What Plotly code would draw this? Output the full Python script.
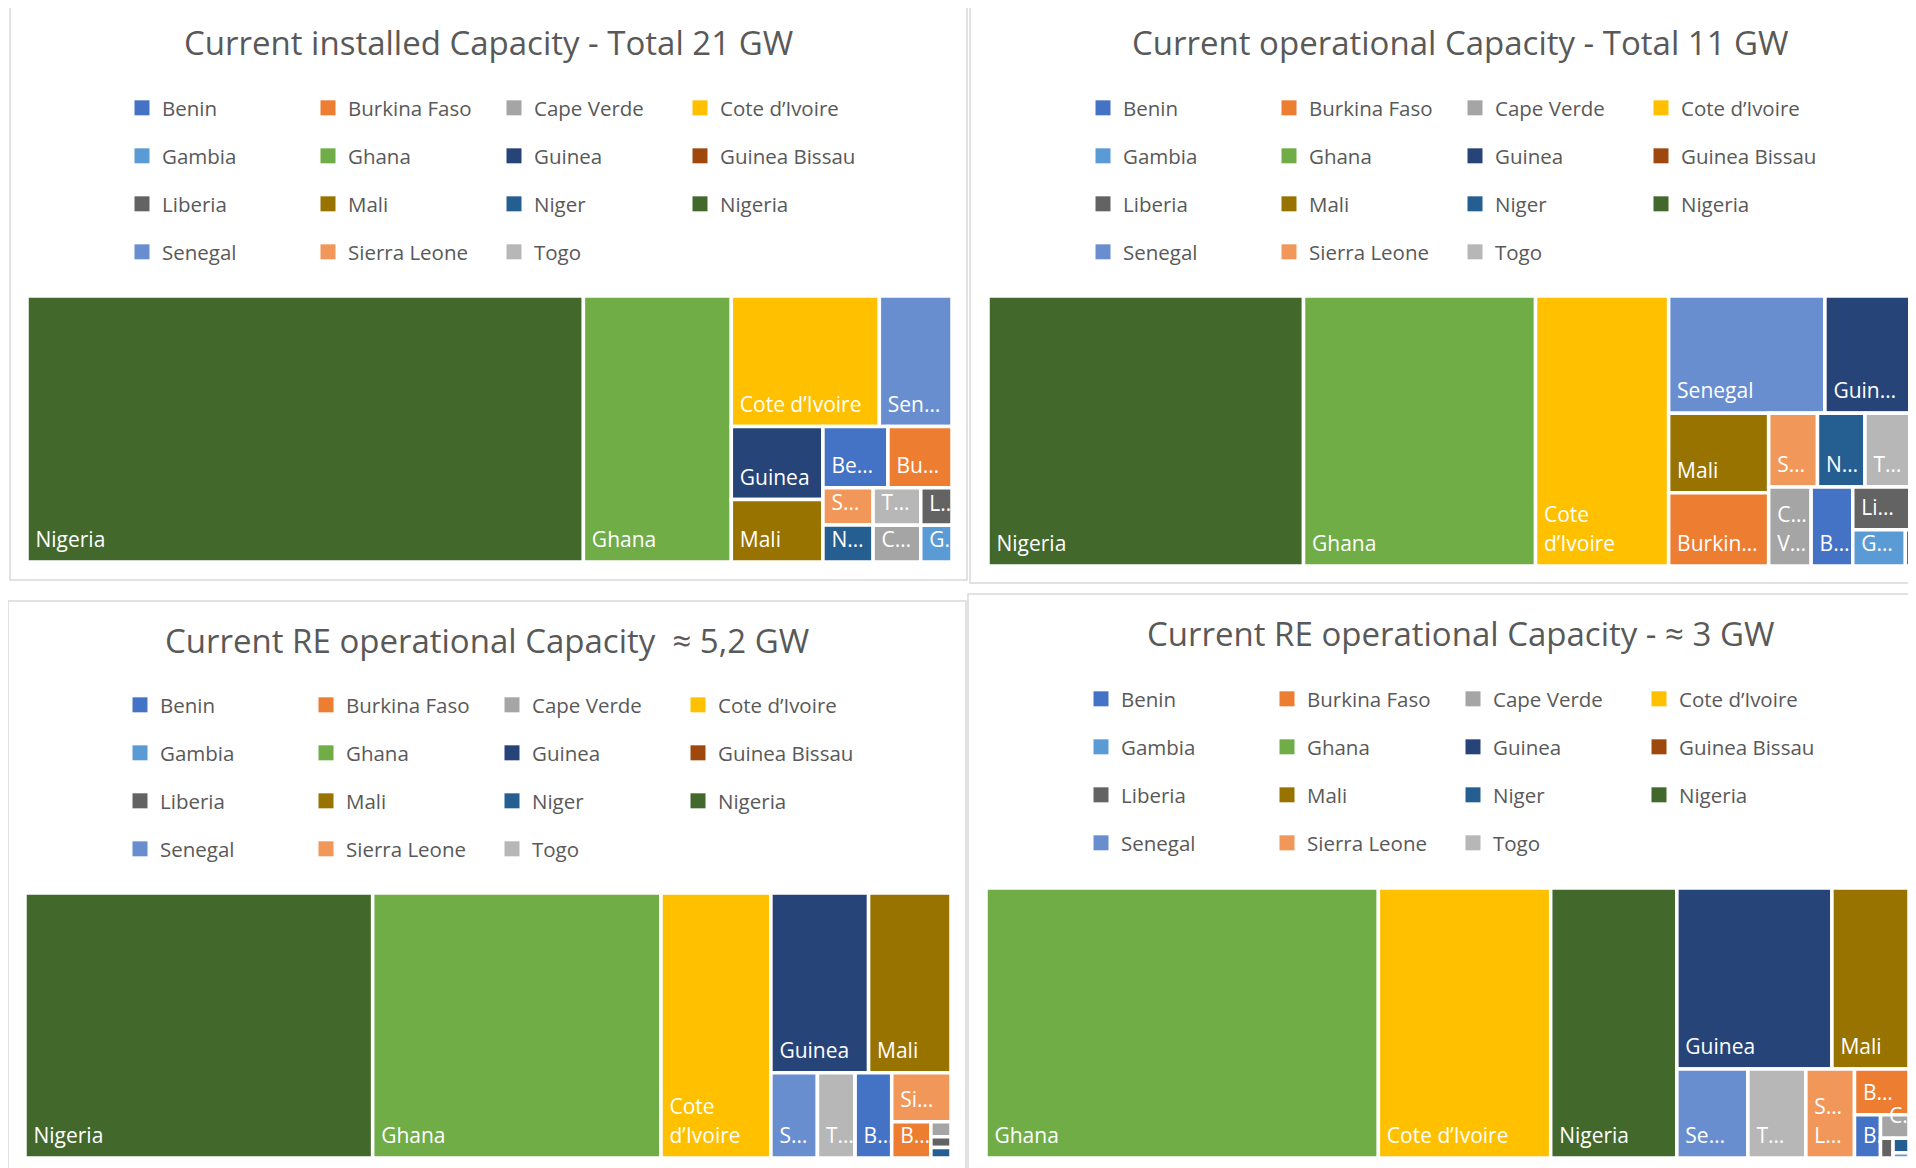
import plotly.graph_objects as go

# the page body adds an 8px margin, so the figure is drawn 8px in
OFF = 8
W, H = 1916 - OFF, 1168 - OFF

# ---------- data ----------
countries = ["Benin", "Burkina Faso", "Cape Verde", "Cote d’Ivoire",
             "Gambia", "Ghana", "Guinea", "Guinea Bissau",
             "Liberia", "Mali", "Niger", "Nigeria",
             "Senegal", "Sierra Leone", "Togo"]

# GW, read from the tile areas
installed_gw = [0.34, 0.335, 0.15, 1.65,
                0.098, 3.36, 0.57, 0.0,
                0.10, 0.49, 0.158, 12.64,
                0.81, 0.16, 0.152]
operational_gw = [0.145, 0.323, 0.148, 1.586,
                  0.084, 2.765, 0.445, 0.009,
                  0.11, 0.352, 0.155, 3.76,
                  0.808, 0.159, 0.150]
re_operational_gw = [0.066, 0.030, 0.0063, 0.617,
                     0.0, 1.619, 0.372, 0.0,
                     0.0046, 0.314, 0.0045, 1.952,
                     0.084, 0.0616, 0.068]
re_operational_3_gw = [0.0135, 0.030, 0.008, 0.56,
                       0.001, 1.275, 0.338, 0.0,
                       0.003, 0.168, 0.0028, 0.41,
                       0.076, 0.052, 0.062]

# labels as Excel shows them (truncated when the tile is too small)
installed_text = ["Be…", "Bu…", "C…", "Cote d’Ivoire",
                  "G…", "Ghana", "Guinea", "",
                  "L…", "Mali", "N…", "Nigeria",
                  "Sen…", "S…", "T…"]
operational_text = ["B…", "Burkin…", "C…<br>V…", "Cote<br>d’Ivoire",
                    "G…", "Ghana", "Guin…", "",
                    "Li…", "Mali", "N…", "Nigeria",
                    "Senegal", "S…", "T…"]
re_operational_text = ["B…", "B…", "", "Cote<br>d’Ivoire",
                       "", "Ghana", "Guinea", "",
                       "", "Mali", "", "Nigeria",
                       "S…", "Si…", "T…"]
re_operational_3_text = ["B…", "B…", "C…", "Cote d’Ivoire",
                         "", "Ghana", "Guinea", "",
                         "", "Mali", "", "Nigeria",
                         "Se…", "S…<br>L…", "T…"]

# grouping of the small tiles (Excel packs them into blocks)
installed_parent = [""] * 15
installed_groups = []
operational_parent = ["small", "", "small", "",
                      "small", "", "", "small",
                      "small", "", "snt", "",
                      "", "snt", "snt"]
operational_groups = [("snt", ""), ("small", "")]
re_operational_parent = ["b2", "b3", "b3", "",
                         "b3", "", "top", "b3",
                         "b3", "top", "b3", "",
                         "bot", "b3", "b1"]
re_operational_groups = [("rest", ""), ("top", "rest"), ("bot", "rest"),
                         ("b1", "bot"), ("b2", "b1"), ("b3", "b2")]
re_operational_3_parent = ["bot", "bot", "bot", "",
                           "bot", "", "top", "bot",
                           "bot", "top", "bot", "",
                           "bot", "bot", "bot"]
re_operational_3_groups = [("top", ""), ("bot", "")]

titles = ["Current installed Capacity - Total 21 GW",
          "Current operational Capacity - Total 11 GW",
          "Current RE operational Capacity  ≈ 5,2 GW",
          "Current RE operational Capacity - ≈ 3 GW"]

# office palette
colors = ["#4472C4", "#ED7D31", "#A5A5A5", "#FFC000",
          "#5B9BD5", "#70AD47", "#264478", "#9E480E",
          "#636363", "#997300", "#255E91", "#43682B",
          "#698ED0", "#F1975A", "#B7B7B7"]

FONT = "Open Sans"
GREY = "#595959"
LABEL_PX = 21
BASE_PX = 7.5   # small base size: sets the spacing of the padding lines


def px(x):
    return (x - OFF) / W


def py(y):
    return 1 - (y - OFF) / H


def tile_label(s):
    if not s:
        return ""
    lines = [f"<span style='font-size:{LABEL_PX}px'>\u00a0{t}</span>" for t in s.split("<br>")]
    return "<br><br><br>".join(lines) + "<br>\u00a0"


# panel geometry in reference pixels
panels = [
    dict(vals=installed_gw, text=installed_text, parent=installed_parent, groups=installed_groups,
         box=(10, 3, 967, 580), tm=(27, 296, 952, 562), title=(488, 42),
         leg_x=122, leg_y=[108, 156, 204, 252]),
    dict(vals=operational_gw, text=operational_text, parent=operational_parent, groups=operational_groups,
         box=(970, 3, 1930, 583), tm=(988, 296, 1911, 566), title=(1460, 42),
         leg_x=1083, leg_y=[108, 156, 204, 252]),
    dict(vals=re_operational_gw, text=re_operational_text, parent=re_operational_parent,
         groups=re_operational_groups,
         box=(8, 601, 966, 1180), tm=(25, 893, 951, 1158), title=(487, 640),
         leg_x=120, leg_y=[705, 753, 801, 849]),
    dict(vals=re_operational_3_gw, text=re_operational_3_text, parent=re_operational_3_parent,
         groups=re_operational_3_groups,
         box=(968, 594, 1930, 1180), tm=(986, 888, 1909, 1158), title=(1460, 633),
         leg_x=1081, leg_y=[699, 747, 795, 843]),
]

fig = go.Figure()
layout_extra = {}
shapes = []
annotations = []

for p_i, p in enumerate(panels):
    vals = p["vals"]
    keep = sorted([i for i, v in enumerate(vals) if v > 0], key=lambda i: -vals[i])
    ids = [countries[i] for i in keep] + [g for g, _ in p["groups"]]
    labels = [countries[i] for i in keep] + [""] * len(p["groups"])
    parents = [p["parent"][i] for i in keep] + [par for _, par in p["groups"]]
    values = [vals[i] for i in keep] + [0] * len(p["groups"])
    texts = [tile_label(p["text"][i]) for i in keep] + [""] * len(p["groups"])
    cols = [colors[i] for i in keep] + ["rgba(0,0,0,0)"] * len(p["groups"])

    x0, y0, x1, y1 = p["tm"]
    fig.add_trace(go.Treemap(
        ids=ids, labels=labels, parents=parents, values=values,
        branchvalues="remainder",
        text=texts,
        texttemplate="%{text}",
        textposition="bottom left",
        textfont=dict(family=FONT, size=BASE_PX, color="white"),
        marker=dict(colors=cols,
                    line=dict(color="white", width=3.5),
                    pad=dict(t=0, l=0, r=0, b=0)),
        tiling=dict(packing="squarify", squarifyratio=1, pad=0),
        pathbar=dict(visible=False),
        sort=False,
        hovertemplate="%{label}: %{value} GW<extra></extra>",
        domain=dict(x=[px(x0), px(x1)], y=[py(y1), py(y0)]),
    ))

    # legend: one horizontal legend per row of four
    for row in range(4):
        k = p_i * 4 + row + 1
        name = "legend" if k == 1 else f"legend{k}"
        for i in range(row * 4, min(row * 4 + 4, len(countries))):
            fig.add_trace(go.Scatter(
                x=[None], y=[None], mode="markers", name=countries[i],
                marker=dict(symbol="square", size=15, color=colors[i]),
                legend=name, showlegend=True, hoverinfo="skip",
            ))
        layout_extra[name] = dict(
            x=px(p["leg_x"]), y=py(p["leg_y"][row]),
            xanchor="left", yanchor="middle",
            orientation="h", entrywidth=141, entrywidthmode="pixels",
            font=dict(family=FONT, size=20.5, color=GREY),
            bgcolor="rgba(0,0,0,0)", itemsizing="trace",
            itemclick=False, itemdoubleclick=False,
        )

    bx0, by0, bx1, by1 = p["box"]
    shapes.append(dict(type="rect", xref="paper", yref="paper",
                       x0=px(bx0), x1=px(bx1), y0=py(by1), y1=py(by0),
                       line=dict(color="#D9D9D9", width=1.5), layer="below"))
    tx, ty = p["title"]
    annotations.append(dict(text=titles[p_i], x=px(tx), y=py(ty),
                            xref="paper", yref="paper", showarrow=False,
                            xanchor="center", yanchor="middle",
                            font=dict(family=FONT, size=33, color=GREY)))

fig.update_layout(
    width=W, height=H,
    margin=dict(l=0, r=0, t=0, b=0),
    paper_bgcolor="white", plot_bgcolor="white",
    xaxis=dict(visible=False), yaxis=dict(visible=False),
    uniformtext=dict(minsize=BASE_PX, mode="show"),
    shapes=shapes, annotations=annotations,
    **layout_extra,
)

fig.write_html("out.html")
